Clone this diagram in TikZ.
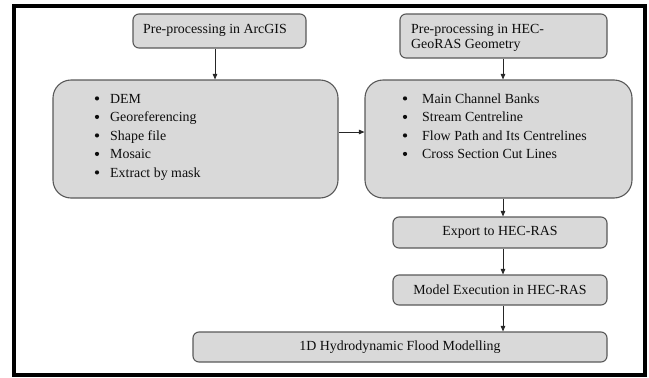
\documentclass[tikz,border=0pt]{standalone}
\usepackage{fontspec}
\setmainfont{Liberation Serif}
\usetikzlibrary{arrows.meta}
\definecolor{boxfill}{HTML}{D9D9D9}
\definecolor{boxline}{HTML}{595959}
\definecolor{txt}{HTML}{0D0D0D}
\definecolor{arrowcol}{HTML}{262626}
\begin{document}
\begin{tikzpicture}[x=1pt,y=-1pt,
  box/.style={draw=boxline,fill=boxfill,line width=1.1pt,rounded corners=#1,inner sep=0pt,
    font=\fontsize{13.9}{18.5}\selectfont,text=txt},
  box/.default=6pt,
  lbl/.style={inner sep=0pt,font=\fontsize{13.9}{18.5}\selectfont,text=txt,anchor=base west},
  bulletdot/.style={fill=txt},
  arr/.style={-{Triangle[length=5.5pt,width=4.5pt]},line width=0.8pt,draw=arrowcol}]
\useasboundingbox (0,0) rectangle (649,378);
\draw[line width=4pt] (14,5.5) rectangle (644.5,375);
% boxes
\node[box, minimum width=173pt, minimum height=34pt] (h1) at (219.5,31) {};
\node[box, minimum width=207pt, minimum height=44pt] (h2) at (503.5,36) {};
\node[box=18pt, minimum width=285pt, minimum height=118pt] (L) at (195.5,139) {};
\node[box=18pt, minimum width=267pt, minimum height=118pt] (R) at (498.5,139) {};
\node[box, minimum width=214pt, minimum height=31pt] (E) at (500,232.5) {Export to HEC-RAS};
\node[box, minimum width=214pt, minimum height=30pt] (M) at (500,290) {Model Execution in HEC-RAS};
\node[box, minimum width=414pt, minimum height=30pt] (F) at (400,347) {1D Hydrodynamic Flood Modelling};
% texts
\node[lbl] (t1) at (143,33) {Pre-processing in ArcGIS};
\node[lbl] (t2a) at (411,33) {Pre-processing in HEC-};
\node[lbl] (t2b) at (411,48) {GeoRAS Geometry};
\node[lbl] (l1) at (110,103) {DEM};
\node[lbl] (l2) at (110,121.5) {Georeferencing};
\node[lbl] (l3) at (110,140) {Shape file};
\node[lbl] (l4) at (110,158.5) {Mosaic};
\node[lbl] (l5) at (110,177) {Extract by mask};
\node[lbl] (r1) at (422,103) {Main Channel Banks};
\node[lbl] (r2) at (422,121.5) {Stream Centreline};
\node[lbl] (r3) at (422,140) {Flow Path and Its Centrelines};
\node[lbl] (r4) at (422,158.5) {Cross Section Cut Lines};
% bullets
\foreach \n in {l1,l2,l3,l4,l5}
  \fill[bulletdot] ([xshift=-13pt,yshift=4.6pt]\n.base west) circle (2.1pt);
\foreach \n in {r1,r2,r3,r4}
  \fill[bulletdot] ([xshift=-17pt,yshift=4.6pt]\n.base west) circle (2.1pt);
% connectors
\coordinate (ax) at (215,0);
\coordinate (ay) at (0,132);
\coordinate (bx) at (503,0);
\draw[arr] (h1.south -| ax) -- (L.north -| ax);
\draw[arr] (h2.south -| bx) -- (R.north -| bx);
\draw[arr] (L.east |- ay) -- (R.west |- ay);
\draw[arr] (R.south -| bx) -- (E.north -| bx);
\draw[arr] (E.south -| bx) -- (M.north -| bx);
\draw[arr] (M.south -| bx) -- (F.north -| bx);
\end{tikzpicture}
\end{document}
